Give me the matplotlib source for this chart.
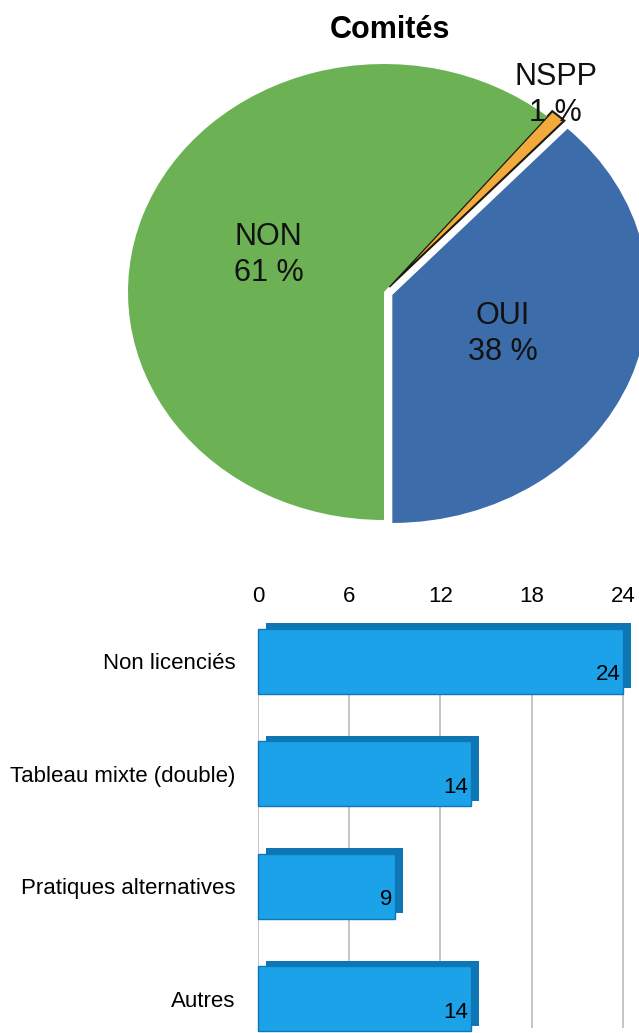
import matplotlib.pyplot as plt
import matplotlib.patheffects as pe
import numpy as np

plt.rcParams["font.family"] = ["Liberation Sans", "DejaVu Sans"]

# pie data
pie_title = "Comités"
pie_labels = ["OUI", "NSPP", "NON"]
pie_values = [38, 1, 61]
pie_colors = ["#3c6ca9", "#f3aa3c", "#6cb255"]

# bar data
bar_categories = ["Non licenciés", "Tableau mixte (double)", "Pratiques alternatives", "Autres"]
bar_values = [24, 14, 9, 14]
bar_ticks = [0, 6, 12, 18, 24]

W, H = 639, 1033
fig = plt.figure(figsize=(W / 100, H / 100), dpi=100)

# --- pie (slightly flattened, like the tilted original) ---
cx, cy, rx, ry = 384, 292, 256, 228
ax = fig.add_axes([(cx - rx) / W, 1 - (cy + ry) / H, 2 * rx / W, 2 * ry / H])
wedges, _ = ax.pie(pie_values, colors=pie_colors, startangle=270, counterclock=True,
                   explode=(0.035, 0.03, 0), wedgeprops={"linewidth": 0})
ax.set_xlim(-1, 1)
ax.set_ylim(-1, 1)
ax.set_aspect("auto")
ax.axis("off")
# dark sides along the thin NSPP slice
wedges[1].set_edgecolor("#1a1a10")
wedges[1].set_linewidth(1.5)
label_dist = [0.5, 1.15, 0.48]
label_dx = [0, -0.09, 0]
for w, lab, val, dist, dx in zip(wedges, pie_labels, pie_values, label_dist, label_dx):
    ang = np.deg2rad((w.theta1 + w.theta2) / 2)
    ax.text(dist * np.cos(ang) + dx, dist * np.sin(ang), f"{lab}\n{val} %", ha="center", va="center",
            fontsize=22, linespacing=1.25, color="#111111")
fig.text(390 / W, 1 - 30 / H, pie_title, ha="center", va="center", fontsize=22, fontweight="bold")

# --- horizontal bars ---
x0, per = 258, 15.2
y_top, y_bot = 632, 1028
bx = fig.add_axes([x0 / W, 1 - y_bot / H, 24.6 * per / W, (y_bot - y_top) / H])
ypos = np.arange(len(bar_categories))
bars = bx.barh(ypos, bar_values, height=0.58, color="#1ca2e8", edgecolor="#0d78b8",
               linewidth=1.0, zorder=3, clip_on=False)
for b in bars:
    b.set_path_effects([pe.SimplePatchShadow(offset=(6, 4), shadow_rgbFace="#0e76b4", alpha=1.0),
                        pe.Normal()])
bx.set_xlim(0, 24.6)
bx.set_ylim(3.26, -0.26)
bx.set_xticks(bar_ticks)
bx.xaxis.tick_top()
bx.tick_params(axis="x", length=0, pad=18, labelsize=16)
bx.set_yticks(ypos, bar_categories)
bx.tick_params(axis="y", length=0, pad=16, labelsize=16)
bx.grid(axis="x", color="#bbbbbb", linewidth=1.2, zorder=0)
for s in bx.spines.values():
    s.set_visible(False)
for y, v in zip(ypos, bar_values):
    bx.text(v - 0.15, y + 0.12, str(v), ha="right", va="center", fontsize=16, zorder=4)

fig.savefig("out.png", dpi=100)
